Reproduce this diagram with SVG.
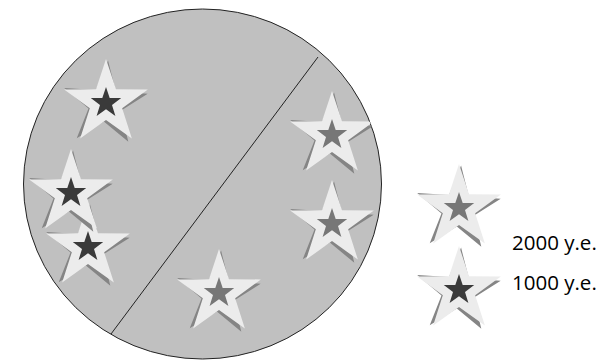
<svg xmlns="http://www.w3.org/2000/svg" xmlns:xlink="http://www.w3.org/1999/xlink" width="602" height="360" viewBox="0 0 602 360">
<style>
.disc{fill:#c0c0c0;stroke:#222;stroke-width:1}
.div{stroke:#222;stroke-width:1;fill:none}
.big{fill:#ececec}
.shadow{fill:#858585}
.dark{fill:#3a3a3a}
.mid{fill:#777777}
.lbl{font-family:"Open Sans","Liberation Sans",sans-serif;font-size:20.5px;fill:#000}
</style>
<defs>
<path id="bigStar" d="M0,-44 L9.99,-13.75 L41.85,-13.6 L16.17,5.25 L25.86,35.6 L0,17 L-25.86,35.6 L-16.17,5.25 L-41.85,-13.6 L-9.99,-13.75 Z"/>
<path id="smallStar" d="M0,-16 L3.7,-5.1 L15.22,-4.94 L6.0,1.95 L9.4,12.94 L0,6.3 L-9.4,12.94 L-6.0,1.95 L-15.22,-4.94 L-3.7,-5.1 Z"/>
<g id="starBase">
<use xlink:href="#bigStar" class="shadow" transform="translate(-1,1.5) rotate(4)"/>
<use xlink:href="#bigStar" class="big"/>
</g>
<clipPath id="discClip"><ellipse cx="202.5" cy="184" rx="179" ry="175"/></clipPath>
</defs>
<ellipse id="disc" class="disc" cx="202.5" cy="184" rx="179" ry="175"/>
<g id="connectors"><line class="div" x1="318" y1="57" x2="111" y2="334"/></g>
<g clip-path="url(#discClip)">
<g id="star-a" transform="translate(106,103)"><use xlink:href="#starBase"/><use xlink:href="#smallStar" class="dark"/></g>
<g id="star-c" transform="translate(88,247)"><use xlink:href="#starBase"/><use xlink:href="#smallStar" class="dark"/></g>
<g id="star-b" transform="translate(71,193)"><use xlink:href="#starBase"/><use xlink:href="#smallStar" class="dark"/></g>
<g id="star-d" transform="translate(332,135)"><use xlink:href="#starBase"/><use xlink:href="#smallStar" class="mid"/></g>
<g id="star-e" transform="translate(332,224)"><use xlink:href="#starBase"/><use xlink:href="#smallStar" class="mid"/></g>
<g id="star-f" transform="translate(219,293)"><use xlink:href="#starBase"/><use xlink:href="#smallStar" class="mid"/></g>
</g>
<g id="legend-2000" transform="translate(459,208)"><use xlink:href="#starBase"/><use xlink:href="#smallStar" class="mid"/></g>
<g id="legend-1000" transform="translate(459,290)"><use xlink:href="#starBase"/><use xlink:href="#smallStar" class="dark"/></g>
<text class="lbl" x="512" y="250">2000 y.e.</text>
<text class="lbl" x="512" y="290">1000 y.e.</text>
</svg>
